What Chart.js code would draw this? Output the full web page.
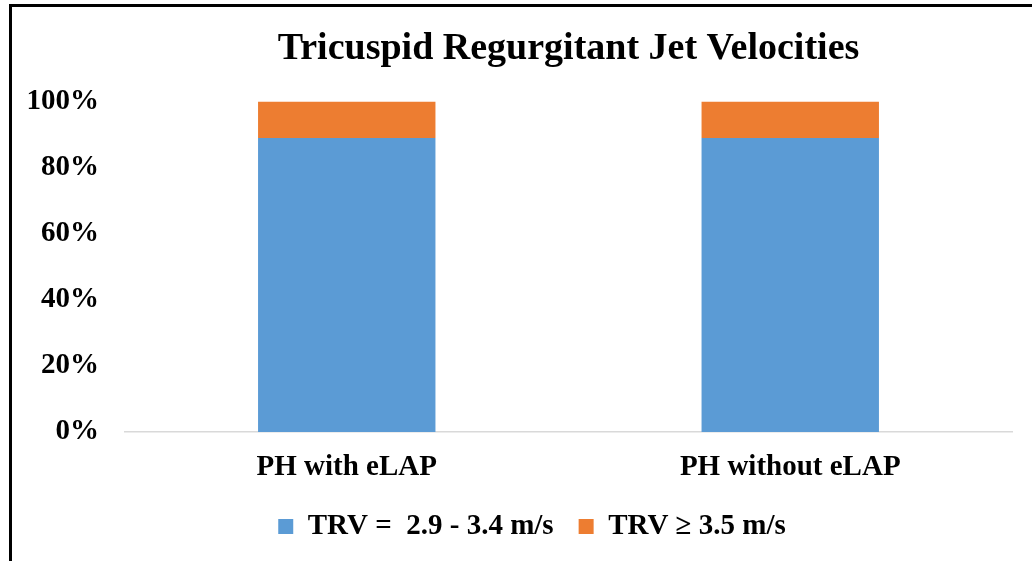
<!DOCTYPE html>
<html>
<head>
<meta charset="utf-8">
<script src="https://cdn.jsdelivr.net/npm/chart.js@4/dist/chart.umd.min.js"></script>
<style>
  html, body { margin: 0; padding: 0; background: #fff; }
  #wrap { position: relative; width: 1032px; height: 561px; overflow: hidden; }
  #frame { position: absolute; left: 9px; top: 4px; width: 1100px; height: 700px;
           border-top: 3px solid #000; border-left: 3px solid #000; pointer-events: none; }
  canvas { position: absolute; left: 0; top: 0; }
</style>
</head>
<body>
<div id="wrap">
  <canvas id="c" width="1032" height="561"></canvas>
  <div id="frame"></div>
</div>
<script>
const titleText = "Tricuspid Regurgitant Jet Velocities";
const categories = ["PH with eLAP", "PH without eLAP"];
const seriesNames = ["TRV =  2.9 - 3.4 m/s", "TRV \u2265 3.5 m/s"];
const trvLow = [89, 89];
const trvHigh = [11, 11];
const yTicks = [0, 20, 40, 60, 80, 100];

const serif = "'Liberation Serif', 'Times New Roman', serif";

// shifts the centred legend row so it sits where the reference has it
const legendShift = {
  id: 'legendShift',
  afterLayout(chart) { if (chart.legend) { chart.legend.left = 52; } }
};

new Chart(document.getElementById('c'), {
  type: 'bar',
  data: {
    labels: categories,
    datasets: [
      { label: seriesNames[0], data: trvLow, backgroundColor: '#5B9BD5' },
      { label: seriesNames[1], data: trvHigh, backgroundColor: '#ED7D31' }
    ]
  },
  plugins: [legendShift],
  options: {
    responsive: false,
    animation: false,
    layout: { padding: { top: 10, right: 20, left: 0, bottom: 10 } },
    datasets: { bar: { categoryPercentage: 1, barPercentage: 0.4 } },
    plugins: {
      title: {
        display: true, text: titleText, color: '#000', fullSize: false,
        font: { family: serif, size: 38, weight: 'bold', lineHeight: 1.2 },
        padding: { top: 16, bottom: 30 }
      },
      legend: {
        position: 'bottom',
        labels: {
          color: '#000', boxWidth: 15, boxHeight: 15, padding: 25,
          font: { family: serif, size: 29, weight: 'bold', lineHeight: 1.2 }
        }
      },
      tooltip: { enabled: false }
    },
    scales: {
      x: {
        stacked: true,
        afterFit: (s) => { s.height = 55; },
        grid: { display: false, drawTicks: false },
        border: { display: true, color: '#d9d9d9', width: 1.5 },
        ticks: { color: '#000', padding: 18,
          font: { family: serif, size: 29, weight: 'bold', lineHeight: 1.2 } }
      },
      y: {
        stacked: true, min: 0, max: 100,
        afterFit: (s) => { s.width = 125; },
        afterBuildTicks: (s) => { s.ticks = yTicks.map(v => ({ value: v })); },
        grid: { display: false, drawTicks: false },
        border: { display: false },
        ticks: { color: '#000', padding: 26, callback: (v) => v + '%',
          font: { family: serif, size: 29, weight: 'bold', lineHeight: 1.2 } }
      }
    }
  }
});
</script>
</body>
</html>
